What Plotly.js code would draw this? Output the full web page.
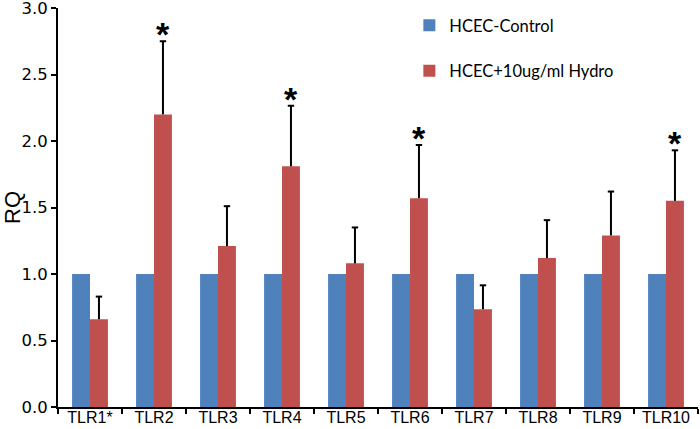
<!DOCTYPE html>
<html>
<head>
<meta charset="utf-8">
<script src="https://cdn.plot.ly/plotly-3.0.1.min.js"></script>
<style>html,body{margin:0;padding:0;background:#fff}#chart{width:700px;height:429px}</style>
</head>
<body>
<div id="chart"></div>
<script>
const categories = ["TLR1*","TLR2","TLR3","TLR4","TLR5","TLR6","TLR7","TLR8","TLR9","TLR10"];
const controlValues = [1,1,1,1,1,1,1,1,1,1];
const hydroValues = [0.66,2.2,1.21,1.81,1.08,1.57,0.735,1.12,1.29,1.55];
const hydroErrors = [0.17,0.55,0.30,0.455,0.27,0.40,0.18,0.285,0.33,0.38];
const significant = [false,true,false,true,false,true,false,false,false,true];
const seriesNames = ["HCEC-Control","HCEC+10ug/ml Hydro"];
const yTicks = [0,0.5,1,1.5,2,2.5,3];

const bargap = 0.44;
const redOffset = (1 - bargap) / 4;
const capHalf = 0.05;

const traces = [
  {type:"bar", x:categories, y:controlValues, name:seriesNames[0],
   marker:{color:"#4F81BD"}, legendgroup:"a"},
  {type:"bar", x:categories, y:hydroValues, name:seriesNames[1],
   marker:{color:"#C0504D"}, legendgroup:"b",
   error_y:{type:"data", array:hydroErrors, arrayminus:hydroErrors.map(()=>0),
            symmetric:false, color:"#000", thickness:2, width:0}}
];

const shapes = hydroValues.map((v,i)=>({
  type:"line", xref:"x", yref:"y",
  x0:i+redOffset-capHalf, x1:i+redOffset+capHalf,
  y0:v+hydroErrors[i], y1:v+hydroErrors[i],
  line:{color:"#000", width:2}
}));

const annotations = [];
categories.forEach((c,i)=>{
  if (significant[i]) {
    annotations.push({xref:"x", yref:"y", x:i+redOffset, y:hydroValues[i]+hydroErrors[i],
      text:"<b>*</b>", showarrow:false, yanchor:"bottom", yshift:-14,
      font:{family:"Liberation Sans, Arial", size:34, color:"#000"}});
  }
});

const layout = {
  width:700, height:429,
  margin:{l:58, r:2, t:8, b:22},
  paper_bgcolor:"#fff", plot_bgcolor:"#fff",
  barmode:"group", bargap:bargap, bargroupgap:0,
  showlegend:true,
  legend:{x:0.549, y:1.0, xanchor:"left", yanchor:"top", tracegroupgap:21,
          traceorder:"grouped", itemwidth:30,
          font:{family:"Lato, Open Sans", size:16.5, color:"#000"},
          bgcolor:"rgba(0,0,0,0)"},
  xaxis:{type:"category", showline:true, linecolor:"#000", linewidth:2,
         ticks:"outside", tickson:"boundaries", ticklen:5, tickwidth:2, tickcolor:"#000",
         ticklabelstandoff:-5, ticklabeloverflow:"allow",
         tickfont:{family:"Liberation Sans, Arial", size:16, color:"#000"},
         showgrid:false, zeroline:false},
  yaxis:{range:[0,3], tickmode:"array", tickvals:yTicks, ticktext:yTicks.map(v=>v.toFixed(1)),
         showline:true, linecolor:"#000", linewidth:2, ticklabeloverflow:"allow",
         ticks:"outside", ticklen:5, tickwidth:2, tickcolor:"#000",
         tickfont:{family:"DejaVu Sans", size:16.5, color:"#000"},
         showgrid:false, zeroline:false,
         title:{text:"RQ", standoff:4, font:{family:"Liberation Sans, Arial", size:22, color:"#000"}}},
  shapes:shapes,
  annotations:annotations
};

Plotly.newPlot("chart", traces, layout, {displayModeBar:false, staticPlot:true});
</script>
</body>
</html>
